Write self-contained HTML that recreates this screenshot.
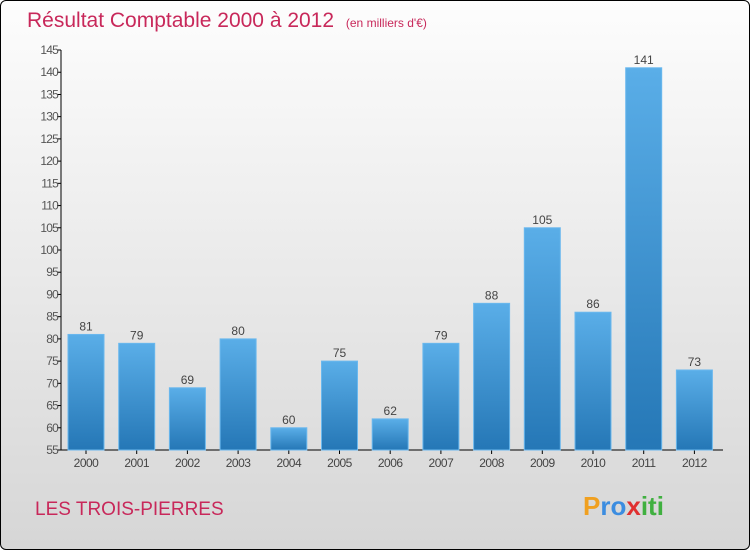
<!DOCTYPE html>
<html><head><meta charset="utf-8"><style>
body{margin:0}
#c{width:748px;height:548px;border:1px solid #000;border-radius:6px;background:linear-gradient(#fdfdfd,#d6d6d6);position:relative;overflow:hidden;font-family:"Liberation Sans",sans-serif}
</style></head><body>
<div id="c">
<svg width="748" height="548">
<text x="26" y="26" font-size="21" fill="#c8285a">Résultat Comptable 2000 à 2012 <tspan font-size="12" dx="6">(en milliers d'€)</tspan></text>
<g id="ax"></g><g id="bars"></g>
<text x="34" y="514" font-size="19" fill="#c8285a">LES TROIS-PIERRES</text>
<text x="582" y="514" font-size="26" font-weight="bold"><tspan fill="#f0a020">P</tspan><tspan fill="#3c8de0">ro</tspan><tspan fill="#e03030">x</tspan><tspan fill="#40b040">iti</tspan></text>
<defs><linearGradient id="g" x1="0" y1="0" x2="0" y2="1"><stop offset="0" stop-color="#5aaee8"/><stop offset="1" stop-color="#2577b6"/></linearGradient></defs>
</svg></div>
<script>
const years=["2000","2001","2002","2003","2004","2005","2006","2007","2008","2009","2010","2011","2012"];
const values=[81,79,69,80,60,75,62,79,88,105,86,141,73];
const yTicks=[55,60,65,70,75,80,85,90,95,100,105,110,115,120,125,130,135,140,145];
const NS="http://www.w3.org/2000/svg";
const y=v=>449-(v-55)*400/90;
const x=i=>85+i*50.7;
function mk(t,a,p){const e=document.createElementNS(NS,t);for(const k in a)e.setAttribute(k,a[k]);p.appendChild(e);return e;}
const ax=document.getElementById('ax'),bg=document.getElementById('bars');
const yl=mk('line',{x1:60,y1:y(145),x2:60,y2:y(55),stroke:'#000'},ax);


const xl=mk('line',{x1:60,y1:y(55),x2:722,y2:y(55),stroke:'#000'},ax);


yTicks.forEach(v=>{
 mk('line',{x1:56,x2:60,y1:y(v),y2:y(v),stroke:'#000'},ax);
 const t=mk('text',{x:57,y:y(v)+4,'font-size':12,fill:'#555','text-anchor':'end','letter-spacing':'-0.8'},ax);
 t.textContent=v;
 
 
});
years.forEach((yr,i)=>{
 const r=mk('rect',{x:x(i)-18,y:y(values[i]),width:36,height:y(55)-y(values[i]),fill:'url(#g)',stroke:'#6ab8ee','stroke-width':1},bg);
 
 
 const l=mk('text',{x:x(i),y:y(values[i])-4,'font-size':12,fill:'#444','text-anchor':'middle'},bg);
 l.textContent=values[i];
 
 
 mk('line',{x1:x(i),x2:x(i),y1:y(55),y2:y(55)+4,stroke:'#000'},ax);
 const t=mk('text',{x:x(i),y:466,'font-size':12,fill:'#444','text-anchor':'middle','letter-spacing':'-0.5'},ax);
 t.textContent=yr;
 
 
});
</script>
</body></html>
